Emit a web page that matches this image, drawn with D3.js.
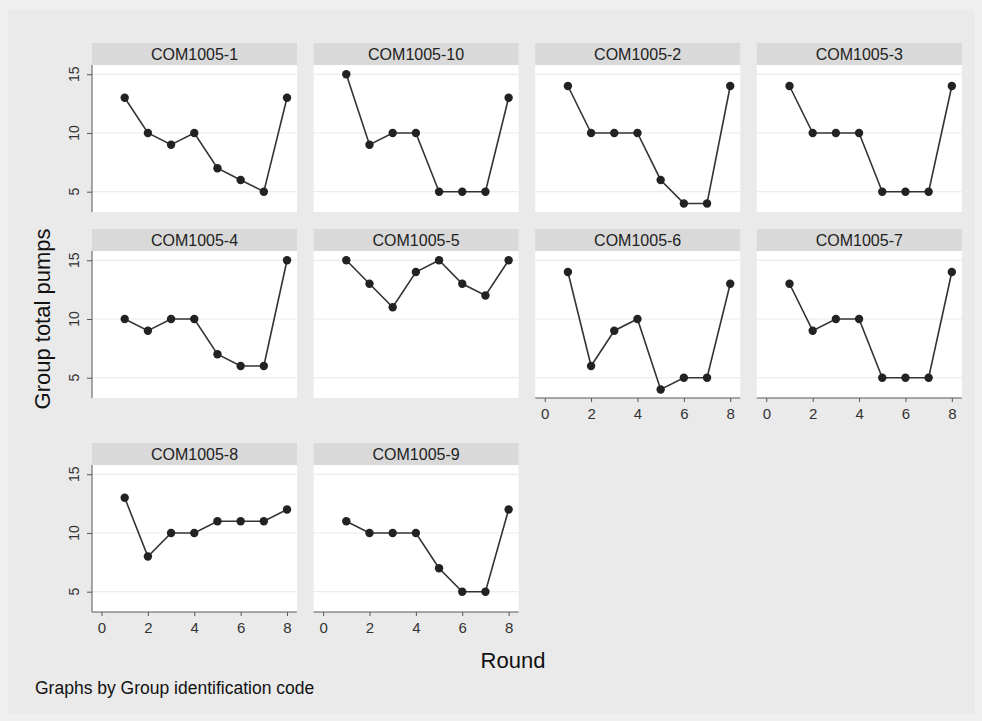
<!DOCTYPE html>
<html>
<head>
<meta charset="utf-8">
<script src="https://d3js.org/d3.v7.min.js"></script>
<style>
  body { margin: 0; background: #ebebeb; }
  svg { display: block; font-family: "Liberation Sans", Arial, sans-serif; }
</style>
</head>
<body>
<script>
// Group codes, in the panel order Stata used (string sort)
const groups = ["COM1005-1", "COM1005-10", "COM1005-2", "COM1005-3", "COM1005-4",
                "COM1005-5", "COM1005-6", "COM1005-7", "COM1005-8", "COM1005-9"];

const rounds = [1, 2, 3, 4, 5, 6, 7, 8];

// Group total pumps per round, one row per group
const pumps = [
  [13, 10, 9, 10, 7, 6, 5, 13],
  [15, 9, 10, 10, 5, 5, 5, 13],
  [14, 10, 10, 10, 6, 4, 4, 14],
  [14, 10, 10, 10, 5, 5, 5, 14],
  [10, 9, 10, 10, 7, 6, 6, 15],
  [15, 13, 11, 14, 15, 13, 12, 15],
  [14, 6, 9, 10, 4, 5, 5, 13],
  [13, 9, 10, 10, 5, 5, 5, 14],
  [13, 8, 10, 10, 11, 11, 11, 12],
  [11, 10, 10, 10, 7, 5, 5, 12]
];

const xTicks = [0, 2, 4, 6, 8];
const yTicks = [5, 10, 15];

const W = 982, H = 721;
const nCols = 4;
const colLeft = 92, colStep = 221.6;
const rowTop = [43, 229, 443];   // top of the strip header in each row
const stripH = 22;
const plotW = 205, plotH = 147;

const svg = d3.select("body").append("svg")
  .attr("width", W)
  .attr("height", H);

// outer background
svg.append("rect").attr("width", W).attr("height", H).attr("fill", "#efefef");
svg.append("rect")
  .attr("x", 7).attr("y", 8).attr("width", W - 14).attr("height", H - 14)
  .attr("fill", "#eaeaea").attr("stroke", "#f3f3f3");

// scales inside one panel
const x = d3.scaleLinear().domain([-0.41, 8.43]).range([0, plotW]);
const y = d3.scaleLinear().domain([3.27, 15.79]).range([plotH, 0]);

const line = d3.line()
  .x((d, i) => x(rounds[i]))
  .y(d => y(d));

// last panel index in each column -> gets the x axis
const lastInCol = d3.range(nCols).map(c => d3.max(d3.range(groups.length).filter(i => i % nCols === c)));

groups.forEach((name, gi) => {
  const col = gi % nCols, row = Math.floor(gi / nCols);
  const g = svg.append("g")
    .attr("transform", `translate(${colLeft + col * colStep},${rowTop[row]})`);

  // strip header
  g.append("rect")
    .attr("width", plotW).attr("height", stripH)
    .attr("fill", "#d9d9d9");
  g.append("text")
    .attr("x", plotW / 2).attr("y", stripH / 2 + 6)
    .attr("text-anchor", "middle")
    .attr("font-size", 16)
    .attr("fill", "#222")
    .text(name);

  const p = g.append("g").attr("transform", `translate(0,${stripH})`);

  p.append("rect")
    .attr("width", plotW).attr("height", plotH)
    .attr("fill", "#fff");

  // horizontal grid lines
  p.selectAll(".grid")
    .data(yTicks)
    .join("line")
    .attr("x1", 0).attr("x2", plotW)
    .attr("y1", d => y(d)).attr("y2", d => y(d))
    .attr("stroke", "#ececec").attr("stroke-width", 1.2);

  // y axis only on the first column
  if (col === 0) {
    const ya = p.append("g")
      .call(d3.axisLeft(y).tickValues(yTicks).tickSize(5).tickSizeOuter(0).tickFormat(""));
    ya.select(".domain").attr("stroke", "#555").attr("d", `M0,0V${plotH}`);
    ya.selectAll(".tick line").attr("stroke", "#555");
    ya.selectAll(".ylab")
      .data(yTicks)
      .join("text")
      .attr("transform", d => `translate(-13,${y(d)}) rotate(-90)`)
      .attr("text-anchor", "middle")
      .attr("font-size", 14)
      .attr("fill", "#333")
      .text(d => d);
  }

  // x axis only on the bottom panel of each column
  if (gi === lastInCol[col]) {
    const xa = p.append("g")
      .attr("transform", `translate(0,${plotH})`)
      .call(d3.axisBottom(x).tickValues(xTicks).tickSize(4).tickSizeOuter(0).tickPadding(6));
    xa.select(".domain").attr("stroke", "#555").attr("d", `M0,0H${plotW}`);
    xa.selectAll(".tick line").attr("stroke", "#555");
    xa.selectAll(".tick text").attr("font-size", 15).attr("fill", "#333")
      .attr("font-family", "\"Liberation Sans\", Arial, sans-serif");
  }

  const vals = pumps[gi];
  p.append("path")
    .datum(vals)
    .attr("fill", "none")
    .attr("stroke", "#333")
    .attr("stroke-width", 1.6)
    .attr("d", line);

  p.selectAll(".dot")
    .data(vals)
    .join("circle")
    .attr("cx", (d, i) => x(rounds[i]))
    .attr("cy", d => y(d))
    .attr("r", 4.2)
    .attr("fill", "#222");
});

// axis titles
svg.append("text")
  .attr("transform", "translate(50,319) rotate(-90)")
  .attr("text-anchor", "middle")
  .attr("font-size", 22)
  .attr("fill", "#111")
  .text("Group total pumps");

svg.append("text")
  .attr("x", 513).attr("y", 668)
  .attr("text-anchor", "middle")
  .attr("font-size", 22)
  .attr("fill", "#111")
  .text("Round");

svg.append("text")
  .attr("x", 35).attr("y", 694)
  .attr("font-size", 17.5)
  .attr("fill", "#111")
  .text("Graphs by Group identification code");
</script>
</body>
</html>
